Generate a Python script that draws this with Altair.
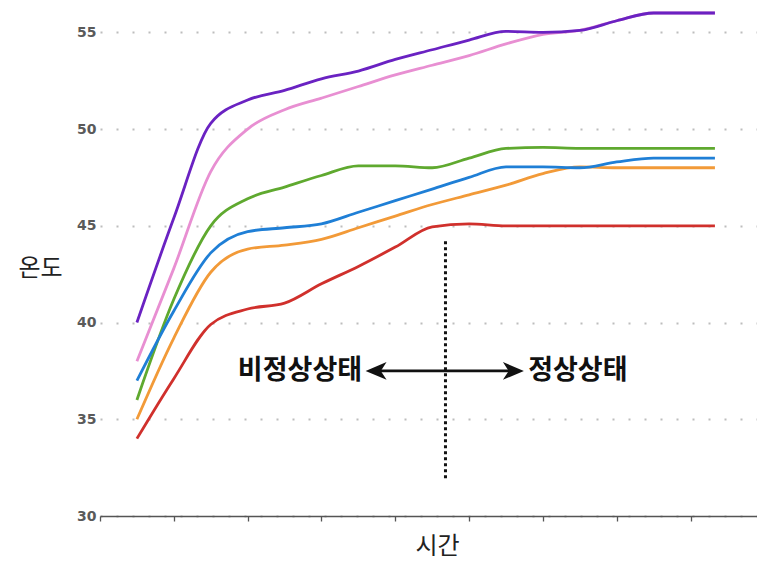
import altair as alt
import pandas as pd

# time positions (axis units) and temperatures
time = [0.5, 1.0, 1.5, 2.0, 2.5, 3.0, 3.5, 4.0, 4.5, 5.0, 5.5, 6.0, 6.5, 7.0, 7.5, 8.0, 8.33]

purple = [40.0, 45.4, 50.3, 51.5, 52.0, 52.6, 53.0, 53.6, 54.1, 54.6, 55.05, 55.0, 55.1, 55.6, 56.0, 56.0, 56.0]
pink   = [38.0, 42.8, 47.8, 50.0, 51.0, 51.6, 52.2, 52.8, 53.3, 53.8, 54.4, 54.9, 55.1, 55.6, 56.0, 56.0, 56.0]
green  = [36.0, 41.2, 45.0, 46.4, 47.0, 47.6, 48.1, 48.1, 48.0, 48.5, 49.0, 49.05, 49.0, 49.0, 49.0, 49.0, 49.0]
blue   = [37.0, 40.6, 43.6, 44.7, 44.9, 45.1, 45.7, 46.3, 46.9, 47.5, 48.05, 48.05, 48.0, 48.3, 48.5, 48.5, 48.5]
orange = [35.0, 39.2, 42.6, 43.8, 44.0, 44.3, 44.9, 45.5, 46.1, 46.6, 47.1, 47.7, 48.05, 48.0, 48.0, 48.0, 48.0]
red    = [34.0, 37.1, 39.9, 40.7, 41.0, 42.0, 42.9, 43.9, 44.95, 45.1, 45.0, 45.0, 45.0, 45.0, 45.0, 45.0, 45.0]

series_names = ["orange", "red", "green", "blue", "pink", "purple"]
series_values = [orange, red, green, blue, pink, purple]
series_colors = ["#f29a38", "#d0302c", "#5fa92f", "#1f7fd6", "#e88fd2", "#6a22c2"]

y_ticks = [30, 35, 40, 45, 50, 55]
x_ticks = [0, 1, 2, 3, 4, 5, 6, 7, 8]

# annotation values (data units)
divider_x = [4.68, 4.68]
divider_y = [44.2, 31.9]
arrow_x = [3.74, 5.6]
arrow_y = 37.5
left_label = "비정상상태"
right_label = "정상상태"
left_label_x = 3.55
right_label_x = 5.8

rows = []
for name, vals in zip(series_names, series_values):
    for t, v in zip(time, vals):
        rows.append({"time": t, "temp": v, "series": name})
df = pd.DataFrame(rows)

xscale = alt.Scale(domain=[0, 8.9], nice=False, zero=False)
yscale = alt.Scale(domain=[30, 56], nice=False, zero=False)

lines = alt.Chart(df).mark_line(interpolate="monotone", strokeWidth=2.8).encode(
    x=alt.X("time:Q", scale=xscale,
            axis=alt.Axis(values=x_ticks, labels=False, grid=False, domain=True,
                          domainColor="#555", domainWidth=1.5, ticks=True, tickColor="#555",
                          tickWidth=1.3, tickSize=5, title="시간", titleFontSize=24,
                          titleFont="Noto Sans CJK KR", titleFontWeight="normal",
                          titleColor="#222", titleX=337, titleY=30, titleAlign="center",
                          titleBaseline="middle")),
    y=alt.Y("temp:Q", scale=yscale,
            axis=alt.Axis(values=y_ticks, grid=True, gridDash=[2, 14], gridColor="#bdbdbd",
                          gridWidth=2, domain=False, ticks=False, labelPadding=4,
                          labelFont="DejaVu Sans", labelFontWeight="bold", labelFontSize=14,
                          labelColor="#5a5a5a", title="온도", titleAngle=0, titleFontSize=24,
                          titleFont="Noto Sans CJK KR", titleFontWeight="normal",
                          titleColor="#222", titleX=-60, titleY=255, titleAlign="center",
                          titleBaseline="middle")),
    color=alt.Color("series:N", scale=alt.Scale(domain=series_names, range=series_colors),
                    legend=None),
    order=alt.Order("series:N"),
)

divider = alt.Chart(pd.DataFrame({"x": divider_x, "y": divider_y})).mark_line(
    color="#111", strokeWidth=3, strokeDash=[3, 3]
).encode(x=alt.X("x:Q", scale=xscale), y=alt.Y("y:Q", scale=yscale))

arrow_line = alt.Chart(pd.DataFrame({"x": arrow_x, "y": [arrow_y, arrow_y]})).mark_line(
    color="#111", strokeWidth=2.6
).encode(x=alt.X("x:Q", scale=xscale), y=alt.Y("y:Q", scale=yscale))

head_path_right = "M 1 0 L -1 -0.85 L -0.45 0 L -1 0.85 Z"
head_path_left = "M -1 0 L 1 -0.85 L 0.45 0 L 1 0.85 Z"

head_left = alt.Chart(pd.DataFrame({"x": [arrow_x[0]], "y": [arrow_y]})).mark_point(
    shape=head_path_left, filled=True, color="#111", size=440, opacity=1
).encode(x=alt.X("x:Q", scale=xscale), y=alt.Y("y:Q", scale=yscale))

head_right = alt.Chart(pd.DataFrame({"x": [arrow_x[1]], "y": [arrow_y]})).mark_point(
    shape=head_path_right, filled=True, color="#111", size=440, opacity=1
).encode(x=alt.X("x:Q", scale=xscale), y=alt.Y("y:Q", scale=yscale))

txt_left = alt.Chart(pd.DataFrame({"x": [left_label_x], "y": [arrow_y], "t": [left_label]})).mark_text(
    align="right", baseline="middle", font="Noto Sans CJK KR", fontWeight="bold",
    fontSize=27, color="#111"
).encode(x=alt.X("x:Q", scale=xscale), y=alt.Y("y:Q", scale=yscale), text="t:N")

txt_right = alt.Chart(pd.DataFrame({"x": [right_label_x], "y": [arrow_y], "t": [right_label]})).mark_text(
    align="left", baseline="middle", font="Noto Sans CJK KR", fontWeight="bold",
    fontSize=27, color="#111"
).encode(x=alt.X("x:Q", scale=xscale), y=alt.Y("y:Q", scale=yscale), text="t:N")

chart = alt.layer(lines, divider, arrow_line, head_left, head_right, txt_left, txt_right).properties(
    width=657, height=503,
    autosize=alt.AutoSizeParams(type="none"),
    padding={"left": 92, "top": 5, "right": 0, "bottom": 46},
).configure_view(stroke=None)

chart.save("out.html", embed_options={"renderer": "svg", "actions": False})
